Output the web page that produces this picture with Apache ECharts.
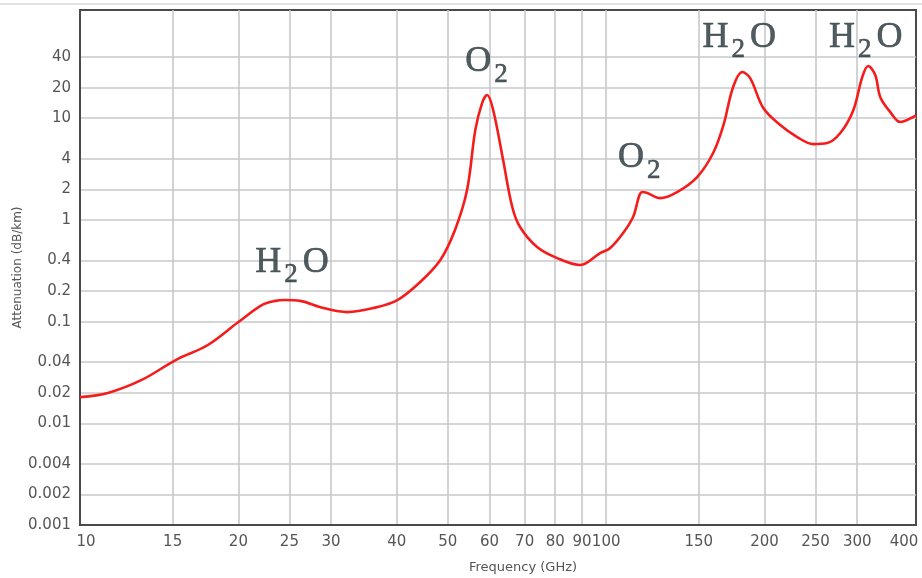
<!DOCTYPE html>
<html><head><meta charset="utf-8">
<script src="https://cdn.jsdelivr.net/npm/echarts@6/dist/echarts.min.js"></script>
<style>html,body{margin:0;padding:0;background:#fff}#c{width:922px;height:578px}</style>
</head><body><div id="c"></div>
<script>
// ---- data ----
const freqGHz = [10, 11.3, 13.1, 15.2, 17.5, 20.0, 22.2, 23.5, 24.5, 26.2, 29.0, 32.2, 36.1, 40.1, 44.3, 48.4,
  51.6, 54.4, 56.4, 58.1, 59.4, 61.0, 63.7, 66.3, 68.6, 73.9, 80.7, 89.3, 97.4, 101.8, 107.7, 112.5,
  117.1, 119.7, 126.6, 136.4, 148.9, 159.7, 166.9, 174.3, 181.4, 187.8, 198.9, 214.2, 230.7, 247.5,
  263, 278.6, 294.9, 306.7, 314.8, 324.6, 331.9, 346.7, 362.2, 383.5, 388];
const attenuationDbKm = [0.0181, 0.0199, 0.0267, 0.0419, 0.0589, 0.099, 0.146, 0.160, 0.163, 0.160, 0.136, 0.124, 0.136, 0.163, 0.245, 0.404,
  0.797, 1.97, 7.65, 14.1, 16.9, 12.0, 3.88, 1.34, 0.851, 0.541, 0.421, 0.360, 0.472, 0.529, 0.743, 1.07,
  1.88, 1.84, 1.64, 1.88, 2.64, 4.55, 8.4, 20.3, 28.5, 24.8, 12.6, 8.57, 6.53, 5.57,
  5.70, 7.15, 12.0, 25.4, 32.6, 26.6, 16.1, 11.5, 9.18, 10.3, 10.7];

const xTickValues = [10, 15, 20, 25, 30, 40, 50, 60, 70, 80, 90, 100, 150, 200, 250, 300];
const xTickLabels = ['10', '15', '20', '25', '30', '40', '50', '60', '70', '80', '90', '100', '150', '200', '250', '300'];
const xEndLabel = '400';
const xMinGHz = 10;
const xMaxGHz = 388;

const yTickValues = [0.001, 0.002, 0.004, 0.01, 0.02, 0.04, 0.1, 0.2, 0.4, 1, 2, 4, 10, 20, 40];
const yTickLabels = ['0.001', '0.002', '0.004', '0.01', '0.02', '0.04', '0.1', '0.2', '0.4', '1', '2', '4', '10', '20', '40'];
const yMinVal = 0.001;
const yMaxVal = 116;

const annotationTexts = ['H{s|2}O', 'O{s|2}', 'O{s|2}', 'H{s|2}O', 'H{s|2}O'];
const annotationFreq = [25.3, 59.9, 116.8, 179, 311.5];
const annotationAtten = [0.385, 36.1, 4.11, 62.8, 62.8];

// ---- build ----
const L = Math.log10;
const xMin = L(xMinGHz), xMax = L(xMaxGHz);
const yMin = L(yMinVal), yMax = L(yMaxVal);
const xTickLog = xTickValues.map(L);
const yTickLog = yTickValues.map(L);

const lineData = freqGHz.map((f, i) => [L(f), L(attenuationDbKm[i])]);
const annData = annotationFreq.map((f, i) => ({ value: [L(f), L(annotationAtten[i])], name: annotationTexts[i] }));

function findIdx(arr, v) {
  for (let i = 0; i < arr.length; i++) if (Math.abs(arr[i] - v) < 1e-6) return i;
  return -1;
}

const tickFont = { color: '#555', fontSize: 15, fontFamily: 'DejaVu Sans' };
const annColor = '#26333a';

const chart = echarts.init(document.getElementById('c'), null, { renderer: 'canvas' });
chart.setOption({
  animation: false,
  backgroundColor: '#fff',
  graphic: [{
    type: 'line', shape: { x1: 0, y1: 4, x2: 922, y2: 4 },
    style: { stroke: '#d6d6d6', lineWidth: 1.5 }, silent: true
  }],
  grid: { left: 80, right: 6, top: 10, bottom: 53, show: true, borderColor: '#4a4a4a', borderWidth: 2,
    backgroundColor: 'transparent', containLabel: false, outerBoundsMode: 'none' },
  xAxis: {
    type: 'value', min: xMin, max: xMax,
    name: 'Frequency (GHz)', nameLocation: 'middle', nameGap: 36, nameMoveOverlap: false,
    nameTextStyle: { color: '#555', fontSize: 13, fontFamily: 'DejaVu Sans', padding: [0, 0, 0, 50] },
    axisLine: { show: true, onZero: false, lineStyle: { color: '#4a4a4a', width: 2 } },
    axisTick: { show: false, customValues: xTickLog.slice(1) },
    splitLine: { show: true, lineStyle: { color: '#c6c8ca', width: 1.6 } },
    axisLabel: {
      ...tickFont, margin: 10,
      customValues: xTickLog.concat([xMax]),
      formatter: function (v) {
        if (Math.abs(v - xMax) < 1e-6) return '{last|' + xEndLabel + '}';
        const i = findIdx(xTickLog, v);
        if (i === 0) return '{first|' + xTickLabels[0] + '}';
        return i >= 0 ? xTickLabels[i] : '';
      },
      rich: {
        first: { ...tickFont, padding: [0, 0, 0, 12] },
        last: { ...tickFont, padding: [0, 24, 0, 0] }
      }
    }
  },
  yAxis: {
    type: 'value', min: yMin, max: yMax,
    name: 'Attenuation (dB/km)', nameLocation: 'middle', nameGap: 56, nameMoveOverlap: false,
    nameTextStyle: { color: '#555', fontSize: 12, fontFamily: 'DejaVu Sans' },
    axisLine: { show: true, onZero: false, lineStyle: { color: '#4a4a4a', width: 2 } },
    axisTick: { show: false, customValues: yTickLog.slice(1) },
    splitLine: { show: true, lineStyle: { color: '#c6c8ca', width: 1.6 } },
    axisLabel: {
      ...tickFont, margin: 9,
      customValues: yTickLog,
      formatter: function (v) {
        const i = findIdx(yTickLog, v);
        return i >= 0 ? yTickLabels[i] : '';
      }
    }
  },
  series: [{
    type: 'line', data: lineData, smooth: 0.35, symbol: 'none',
    lineStyle: { color: '#f51c1c', width: 2.6 }, z: 5
  }, {
    type: 'scatter', data: annData, symbolSize: 0, z: 6,
    label: {
      show: true, position: 'inside',
      formatter: p => p.name,
      color: annColor, fontSize: 36, fontFamily: 'Liberation Serif', lineHeight: 36,
      textBorderColor: annColor, textBorderWidth: 0.6,
      rich: {
        s: { color: annColor, fontSize: 27, fontFamily: 'Liberation Serif', lineHeight: 27, padding: [26, 5, 0, 3],
          textBorderColor: annColor, textBorderWidth: 0.6 }
      }
    }
  }]
});
</script>
</body></html>
